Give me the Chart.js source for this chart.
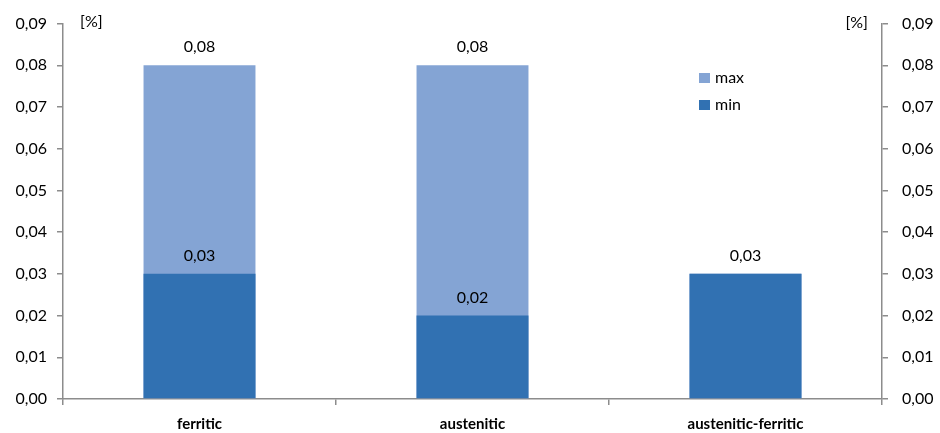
<!DOCTYPE html>
<html lang="en">
<head>
  <meta charset="UTF-8">
  <title>Ferrite content</title>
  <script src="https://cdn.jsdelivr.net/npm/chart.js"></script>
  <style>
    html, body { margin: 0; padding: 0; background: #fff; }
    #wrap { width: 940px; height: 433px; }
  </style>
</head>
<body>
  <div id="wrap"><canvas id="myChart" width="940" height="433"></canvas></div>

  <script>
    // data
    const categories = ['ferritic', 'austenitic', 'austenitic-ferritic'];
    const maxValues = [0.08, 0.08, 0.03];
    const minValues = [0.03, 0.02, 0.03];
    const yTicks = [0, 0.01, 0.02, 0.03, 0.04, 0.05, 0.06, 0.07, 0.08, 0.09];

    const FONT = 'Lato, "Open Sans", sans-serif';
    const AXIS = '#8c8c8c';
    const fmt = v => v.toFixed(2).replace('.', ',');

    // value labels above bars, unit labels and a small legend
    const extras = {
      id: 'extras',
      afterDatasetsDraw(chart) {
        const ctx = chart.ctx;
        ctx.save();
        ctx.fillStyle = '#000';
        ctx.font = '16px ' + FONT;
        ctx.textAlign = 'center';
        ctx.textBaseline = 'alphabetic';
        chart.data.datasets.forEach((ds, di) => {
          const meta = chart.getDatasetMeta(di);
          meta.data.forEach((bar, i) => {
            const v = ds.data[i];
            if (v == null) return;
            // skip max label where it coincides with min
            if (di === 0 && v === minValues[i]) return;
            ctx.fillText(fmt(v), bar.x, bar.y - 13);
          });
        });

        // [%] units
        ctx.textAlign = 'left';
        ctx.textBaseline = 'middle';
        ctx.fillText('[%]', 80, 22);
        ctx.textAlign = 'right';
        ctx.fillText('[%]', 868, 23);

        // legend
        const items = [['max', chart.data.datasets[0].backgroundColor, 78],
                       ['min', chart.data.datasets[1].backgroundColor, 105]];
        ctx.textAlign = 'left';
        items.forEach(([label, color, y]) => {
          ctx.fillStyle = color;
          ctx.fillRect(699, y - 5, 11, 10);
          ctx.fillStyle = '#000';
          ctx.fillText(label, 715, y);
        });
        ctx.restore();
      }
    };

    const yAxis = (position, width) => ({
      type: 'linear',
      position: position,
      min: 0,
      max: 0.09,
      afterBuildTicks: axis => { axis.ticks = yTicks.map(v => ({ value: v })); },
      afterFit: axis => { axis.width = width; },
      border: { color: AXIS, width: 1.5 },
      grid: { drawOnChartArea: false, color: AXIS, tickLength: 6, lineWidth: 1.5 },
      ticks: {
        color: '#000',
        padding: position === 'left' ? 10 : 14,
        font: { family: FONT, size: 16 },
        callback: v => fmt(v)
      }
    });

    const ctx = document.getElementById('myChart').getContext('2d');
    const myChart = new Chart(ctx, {
      type: 'bar',
      data: {
        labels: categories,
        datasets: [{
          label: 'max',
          data: maxValues,
          backgroundColor: '#84a4d4',
          order: 2,
          yAxisID: 'y'
        }, {
          label: 'min',
          data: minValues,
          backgroundColor: '#3171b2',
          order: 1,
          yAxisID: 'y'
        }]
      },
      options: {
        responsive: false,
        animation: false,
        devicePixelRatio: 1,
        layout: { padding: { top: 23, left: 0, right: 0, bottom: 0 } },
        plugins: {
          legend: { display: false },
          tooltip: { enabled: false }
        },
        datasets: {
          bar: { categoryPercentage: 1, barPercentage: 0.41, grouped: false }
        },
        scales: {
          x: {
            offset: true,
            afterFit: axis => { axis.height = 34; },
            border: { color: AXIS, width: 1.5 },
            grid: { offset: true, drawOnChartArea: false, color: AXIS, tickLength: 6, lineWidth: 1.5 },
            ticks: {
              color: '#000',
              padding: 10,
              font: { family: FONT, size: 15, weight: 'bold' }
            }
          },
          y: yAxis('left', 63),
          y2: yAxis('right', 58)
        }
      },
      plugins: [extras]
    });
  </script>
</body>
</html>
